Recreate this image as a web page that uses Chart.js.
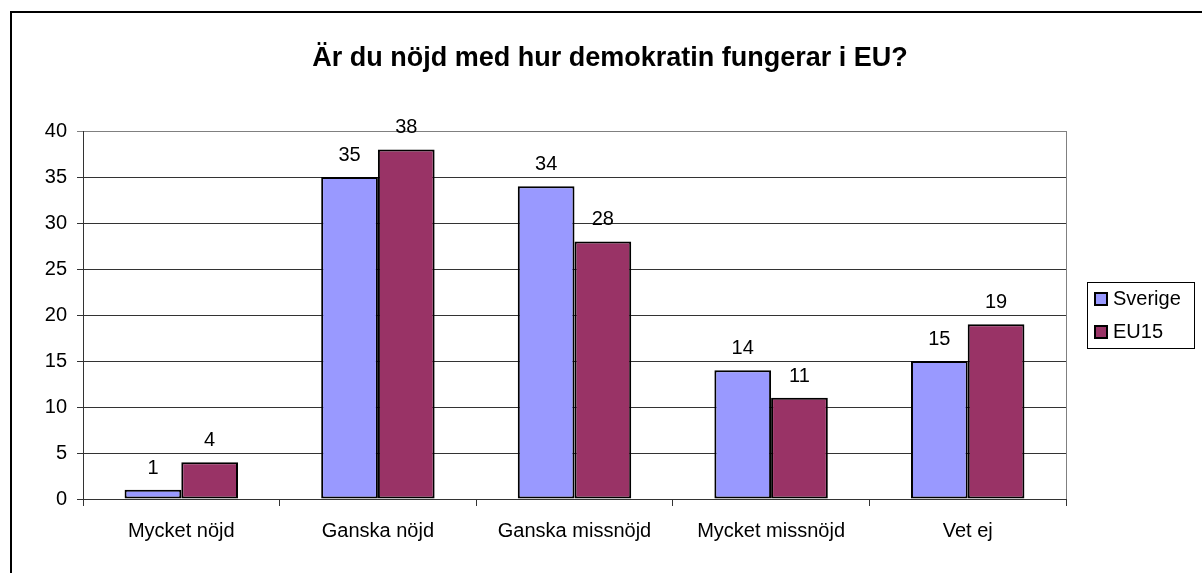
<!DOCTYPE html>
<html>
<head>
<meta charset="utf-8">
<script src="https://cdn.jsdelivr.net/npm/chart.js@4"></script>
<style>
  body { margin: 0; background: #fff; }
  canvas { display: block; }
</style>
</head>
<body>
<canvas id="myChart" width="1202" height="573"></canvas>
<script>
const categories = ['Mycket nöjd', 'Ganska nöjd', 'Ganska missnöjd', 'Mycket missnöjd', 'Vet ej'];
const sverige = [1, 35, 34, 14, 15];
const eu15 = [4, 38, 28, 11, 19];
const seriesNames = ['Sverige', 'EU15'];
const seriesColors = ['#9999FF', '#993366'];
const title = 'Är du nöjd med hur demokratin fungerar i EU?';

const FONT = '"Liberation Sans", Arial, sans-serif';
Chart.defaults.font.family = FONT;
Chart.defaults.color = '#000';

// frame, title, value labels and legend
const extras = {
  id: 'extras',
  beforeDraw(chart) {
    const c = chart.ctx;
    c.save();
    c.fillStyle = '#fff';
    c.fillRect(0, 0, chart.width, chart.height);
    c.fillStyle = '#000';
    c.fillRect(10, 11, chart.width - 10, 2);
    c.fillRect(10, 11, 2, chart.height - 11);
    c.restore();
  },
  afterDraw(chart) {
    const c = chart.ctx;
    const a = chart.chartArea;
    c.save();
    // plot area right edge
    c.strokeStyle = '#808080';
    c.lineWidth = 1;
    c.beginPath();
    c.moveTo(Math.round(a.right) + 0.5, a.top);
    c.lineTo(Math.round(a.right) + 0.5, a.bottom);
    c.stroke();

    c.fillStyle = '#000';
    c.font = 'bold 27px ' + FONT;
    c.textAlign = 'center';
    c.textBaseline = 'alphabetic';
    c.fillText(title, 610, 66);

    c.font = '20px ' + FONT;
    chart.data.datasets.forEach((ds, i) => {
      chart.getDatasetMeta(i).data.forEach((el, j) => {
        c.fillText(String(ds.data[j]), el.x, el.y - 16);
      });
    });

    // legend
    c.fillStyle = '#fff';
    c.fillRect(1087, 282, 107, 66);
    c.strokeStyle = '#000';
    c.strokeRect(1087.5, 282.5, 107, 66);
    c.textAlign = 'left';
    seriesNames.forEach((name, i) => {
      const y = 293 + i * 33;
      c.fillStyle = seriesColors[i];
      c.fillRect(1095, y, 12, 12);
      c.strokeStyle = '#000';
      c.lineWidth = 2;
      c.strokeRect(1095, y, 12, 12);
      c.lineWidth = 1;
      c.fillStyle = '#000';
      c.fillText(name, 1113, y + 12);
    });
    c.restore();
  }
};

new Chart(document.getElementById('myChart'), {
  type: 'bar',
  data: {
    labels: categories,
    datasets: [
      { label: seriesNames[0], data: sverige, backgroundColor: seriesColors[0] },
      { label: seriesNames[1], data: eu15, backgroundColor: seriesColors[1] }
    ]
  },
  options: {
    responsive: false,
    animation: false,
    layout: { padding: { top: 131, left: 0, right: 136, bottom: 0 } },
    datasets: {
      bar: {
        borderColor: '#000',
        borderWidth: 2,
        borderSkipped: false,
        categoryPercentage: 0.577,
        barPercentage: 1
      }
    },
    plugins: {
      legend: { display: false },
      title: { display: false },
      tooltip: { enabled: false }
    },
    scales: {
      x: {
        afterFit(scale) { scale.height = 74; },
        grid: {
          offset: true,
          drawOnChartArea: false,
          tickLength: 7,
          color: '#333'
        },
        border: { color: '#333' },
        ticks: { font: { size: 20 }, padding: 13, maxRotation: 0 }
      },
      y: {
        min: 0,
        max: 40,
        afterFit(scale) { scale.width = 83; },
        grid: {
          tickLength: 6,
          color: (ctx) => ctx.tick && ctx.tick.value === 40 ? '#808080' : '#333'
        },
        border: { color: '#333' },
        ticks: { stepSize: 5, font: { size: 20 }, padding: 10 }
      }
    }
  },
  plugins: [extras]
});
</script>
</body>
</html>
